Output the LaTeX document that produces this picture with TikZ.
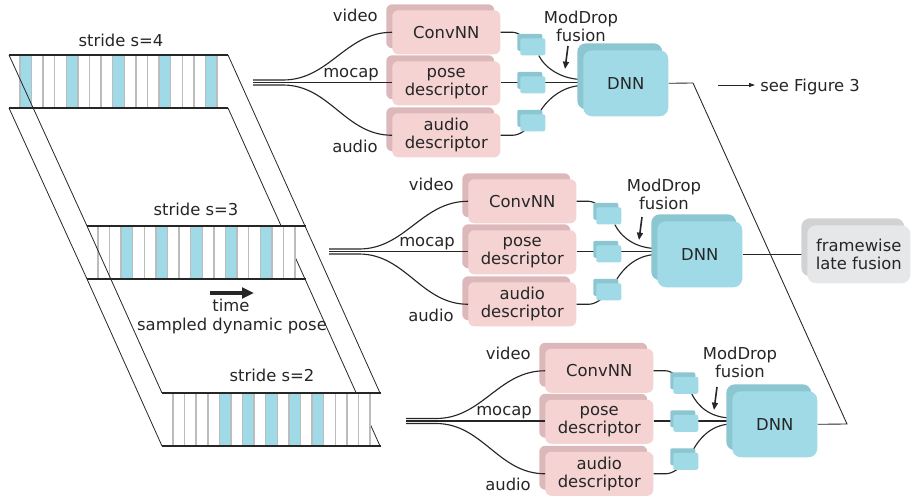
\documentclass[tikz,border=0pt]{standalone}
\usepackage{fontspec}
\setmainfont{DejaVu Sans}
\usetikzlibrary{calc,arrows.meta}
\pgfdeclarelayer{back}
\pgfsetlayers{back,main}
\definecolor{pinkF}{HTML}{F5D3D3}
\definecolor{pinkS}{HTML}{DDB8BB}
\definecolor{cyanF}{HTML}{A0DAE6}
\definecolor{cyanS}{HTML}{8CC6D1}
\definecolor{grayF}{HTML}{E6E7E8}
\definecolor{grayS}{HTML}{D1D2D4}
\definecolor{ink}{HTML}{262626}
\definecolor{stripeG}{HTML}{BBBCBE}
\newcommand\stripdraw[3]{%
  \fill[white] (#1+11,#2) rectangle (#1+208,#2+53);
  \foreach \cc [count=\kk from 0] in {#3} {%
    \ifnum\cc=1 \fill[cyanF] (#1+11+\kk*11.588,#2) rectangle ++(11.588,53);\fi
  }%
  \foreach \kk in {0,...,17} {\draw[stripeG,line width=1.1pt] (#1+11+\kk*11.588,#2) -- ++(0,53);}%
  \draw[ink,line width=1.5pt] (#1,#2) -- ++(219,0) (#1,#2+53) -- ++(219,0);
}
\begin{document}
\begin{tikzpicture}[x=0.75pt,y=-0.75pt,
  txt/.style={font=\fontsize{12.3pt}{13.5pt}\selectfont,text=ink,inner sep=0pt,align=center},
  boxbase/.style={txt,draw=none,anchor=north west,inner sep=0pt},
  pinkbox/.style={boxbase,fill=pinkF,rounded corners=4.5pt,minimum width=81pt,minimum height=33pt},
  pinkshadow/.style={pinkbox,fill=pinkS},
  sqbox/.style={boxbase,fill=cyanF,rounded corners=1.5pt,minimum width=18.75pt,minimum height=12.75pt},
  sqshadow/.style={sqbox,fill=cyanS},
  dnnbox/.style={boxbase,fill=cyanF,rounded corners=6.5pt,minimum width=63.75pt,minimum height=49.5pt},
  dnnshadow/.style={dnnbox,fill=cyanS},
  graybox/.style={boxbase,fill=grayF,rounded corners=6.5pt,minimum width=77.25pt,minimum height=43.5pt},
  grayshadow/.style={graybox,fill=grayS},
  conn/.style={draw=ink,line width=0.85pt},
  thinline/.style={draw=ink,line width=0.65pt},
  edgeline/.style={draw=ink,line width=0.6pt},
]
\useasboundingbox (0,0) rectangle (912,500);
% ---------- 3D strips ----------
\draw[edgeline] (228,108) -- (305,279) -- (380,446);
\stripdraw{9}{55}{1,0,0,0,1,0,0,0,1,0,0,0,1,0,0,0,1}
\stripdraw{87}{226}{0,0,1,0,0,1,0,0,1,0,0,1,0,0,1,0,0}
\stripdraw{162}{393}{0,0,0,0,1,0,1,0,1,0,1,0,1,0,0,0,0}
\draw[edgeline] (9,55) -- (87,226) -- (162,393);
\draw[edgeline] (9,108) -- (87,279) -- (162,446);
\draw[edgeline] (228,55) -- (305,226) -- (380,393);
\node[txt,anchor=base] (st4) at (121,46) {stride s=4};
\node[txt,anchor=base] (st3) at (196,215) {stride s=3};
\node[txt,anchor=base] (st2) at (272,381.5) {stride s=2};
\coordinate (ta) at (210,293);
\coordinate (tb) at (254,293);
\draw[ink,line width=2.7pt,-{Triangle[length=9pt,width=8pt]}] (ta) -- (tb);
\node[txt,anchor=base] (tm) at (231,311.5) {time};
\node[txt,anchor=base] (sdp) at (232,330) {sampled dynamic pose};
% ---------- groups ----------
\foreach \i/\ox/\oy/\dx/\dy/\mx/\my in {1/0/0/583/50/581/26.5, 2/76/169/657/221/664/194.5, 3/153/338.5/732/391/740/362} {
  \node[sqshadow] (s1s\i) at (517+\ox,33.5+\oy) {};
  \node[sqbox] (s1\i) at (520+\ox,38+\oy) {};
  \node[sqshadow] (s2s\i) at (517+\ox,71.5+\oy) {};
  \node[sqbox] (s2\i) at (520+\ox,76+\oy) {};
  \node[sqshadow] (s3s\i) at (517+\ox,109.5+\oy) {};
  \node[sqbox] (s3\i) at (520+\ox,114+\oy) {};
  \node[dnnshadow] (ds\i) at (\dx-6,\dy-7) {};
  \node[dnnbox] (d\i) at (\dx,\dy) {DNN};
  \node[txt] (md\i) at (\mx,\my) {ModDrop\\fusion};
  \coordinate (ma\i) at ($(d\i.north west)+(-15,-4)$);
  \coordinate (mb\i) at ($(d\i.north west)+(-18,19)$);
  \draw[ink,line width=1.2pt,-{Triangle[length=5.5pt,width=4.5pt]}] (ma\i) -- (mb\i);
  \begin{pgfonlayer}{back}
    \node[pinkshadow] (cs\i) at (386+\ox,4+\oy) {};
    \node[pinkbox] (c\i) at (392+\ox,10+\oy) {ConvNN};
    \node[pinkshadow] (ps\i) at (386+\ox,55+\oy) {};
    \node[pinkbox] (p\i) at (392+\ox,61+\oy) {pose\\descriptor};
    \node[pinkshadow] (as\i) at (386+\ox,107+\oy) {};
    \node[pinkbox] (a\i) at (392+\ox,113+\oy) {audio\\descriptor};
    \node[txt,anchor=base east] (lv\i) at (378+\ox,21+\oy) {video};
    \node[txt,anchor=base east] (lm\i) at (379+\ox,77+\oy) {mocap};
    \node[txt,anchor=base east] (la\i) at (378+\ox,152+\oy) {audio};
    \coordinate (bt\i) at (253+\ox,80+\oy);
    \coordinate (bm\i) at (253+\ox,82.5+\oy);
    \coordinate (bb\i) at (253+\ox,85+\oy);
    \draw[conn] (bt\i) -- ++(30,0) to[out=0,in=180] (c\i.west);
    \draw[conn] (bm\i) -- (bm\i -| p\i.west);
    \draw[conn] (bb\i) -- ++(30,0) to[out=0,in=180] (a\i.west);
    \draw[conn] (c\i.east) -- ++(12,0) .. controls +(7,0) and +(-6,-7) .. (s1\i.center);
    \draw[conn] (p\i.east |- bm\i) -- (d\i.west |- bm\i);
    \draw[conn] (a\i.east) -- ++(12,0) .. controls +(7,0) and +(-6,7) .. (s3\i.center);
    \draw[conn] ($(s1\i.south)+(6,0)$) .. controls +(6,12) and +(-22,0) .. ($(d\i.west |- bm\i)+(0,-3)$);
    \draw[conn] ($(s3\i.north)+(6,0)$) .. controls +(6,-12) and +(-22,0) .. ($(d\i.west |- bm\i)+(0,3)$);
  \end{pgfonlayer}
}
% ---------- late fusion & links ----------
\node[grayshadow] (fws) at (801,218) {};
\node[graybox] (fw) at (807,225) {framewise\\late fusion};
\begin{pgfonlayer}{back}
  \draw[conn] (d2.east) -- (d2.east -| fw.west);
  \coordinate (k1) at (693,83);
  \coordinate (k2) at (847,424);
  \draw[thinline] (d1.east) -- (k1) -- (k2) -- (d3.east);
\end{pgfonlayer}
\node[txt,anchor=base west] (see) at (760,91) {see Figure 3};
\coordinate (sf) at (718,85);
\draw[thinline,-{Triangle[length=4.5pt,width=3pt]}] (sf) -- ($(see.west |- sf)+(-5,0)$);
\end{tikzpicture}
\end{document}
